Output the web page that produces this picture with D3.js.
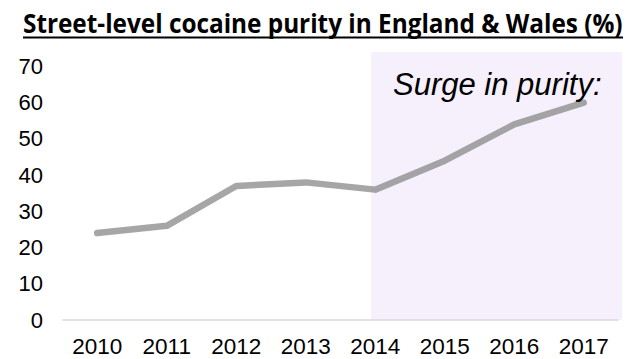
<!DOCTYPE html>
<html>
<head>
<meta charset="utf-8">
<script src="https://cdn.jsdelivr.net/npm/d3@7"></script>
<style>
  html, body { margin: 0; padding: 0; background: #ffffff; }
  svg { display: block; }
</style>
</head>
<body>
<script>
const years = ["2010", "2011", "2012", "2013", "2014", "2015", "2016", "2017"];
const purity = [24, 26, 37, 38, 36, 44, 54, 60];
const yTicks = [0, 10, 20, 30, 40, 50, 60, 70];
const titleText = "Street-level cocaine purity in England & Wales (%)";
const annotationText = "Surge in purity:";
const surgeStart = "2014";

const W = 631, H = 359;
const svg = d3.select("body").append("svg").attr("width", W).attr("height", H);

const x = d3.scaleBand().domain(years).range([62.5, 618.5]).padding(0);
const y = d3.scaleLinear().domain([0, 70]).range([320, 66.5]);
const cx = d => x(d) + x.bandwidth() / 2;

// shaded region
svg.append("rect")
  .attr("x", cx(surgeStart) - 4)
  .attr("y", 52)
  .attr("width", 622 - (cx(surgeStart) - 4))
  .attr("height", y(0) - 52)
  .attr("fill", "#f5f0fb");

// baseline
svg.append("line")
  .attr("x1", x.range()[0]).attr("x2", x.range()[1])
  .attr("y1", y(0)).attr("y2", y(0))
  .attr("stroke", "#d9d9d9").attr("stroke-width", 1.5);

// y axis labels
const yAxis = d3.axisLeft(y).tickValues(yTicks).tickSize(0).tickPadding(0);
const gy = svg.append("g").attr("transform", "translate(43,0)").call(yAxis);
gy.select(".domain").remove();
gy.selectAll("text")
  .attr("font-family", "'Liberation Sans', Arial, sans-serif")
  .attr("font-size", 22).attr("fill", "#000");

// x axis labels
const xAxis = d3.axisBottom(x).tickSize(0).tickPadding(0);
const gx = svg.append("g").attr("transform", "translate(0,338)").call(xAxis);
gx.select(".domain").remove();
gx.selectAll("text")
  .attr("font-family", "'Liberation Sans', Arial, sans-serif")
  .attr("font-size", 22.5).attr("fill", "#000");

// line
const line = d3.line().x((d, i) => cx(years[i])).y(d => y(d));
svg.append("path")
  .datum(purity)
  .attr("d", line)
  .attr("fill", "none")
  .attr("stroke", "rgba(128,128,128,0.7)")
  .attr("stroke-width", 6.5)
  .attr("stroke-linecap", "round")
  .attr("stroke-linejoin", "round");

// annotation
svg.append("text")
  .attr("x", 393).attr("y", 95)
  .attr("font-family", "'Liberation Sans', Arial, sans-serif")
  .attr("font-size", 31).attr("font-style", "italic").attr("fill", "#000")
  .text(annotationText);

// title: horizontally scaled to fit the reference width
const titleLeft = 23, titleWidth = 600;
const tg = svg.append("g");
const tt = tg.append("text")
  .attr("x", 0).attr("y", 0)
  .attr("font-family", "'Open Sans', sans-serif")
  .attr("font-size", 27).attr("font-weight", "bold").attr("fill", "#000")
  .text(titleText);
const natural = tt.node().getComputedTextLength();
const sx = Math.min(1, titleWidth / natural);
tg.attr("transform", `translate(${titleLeft},33) scale(${sx},1)`);
svg.append("line")
  .attr("x1", titleLeft).attr("x2", titleLeft + natural * sx)
  .attr("y1", 37.5).attr("y2", 37.5)
  .attr("stroke", "#000").attr("stroke-width", 2);
</script>
</body>
</html>
